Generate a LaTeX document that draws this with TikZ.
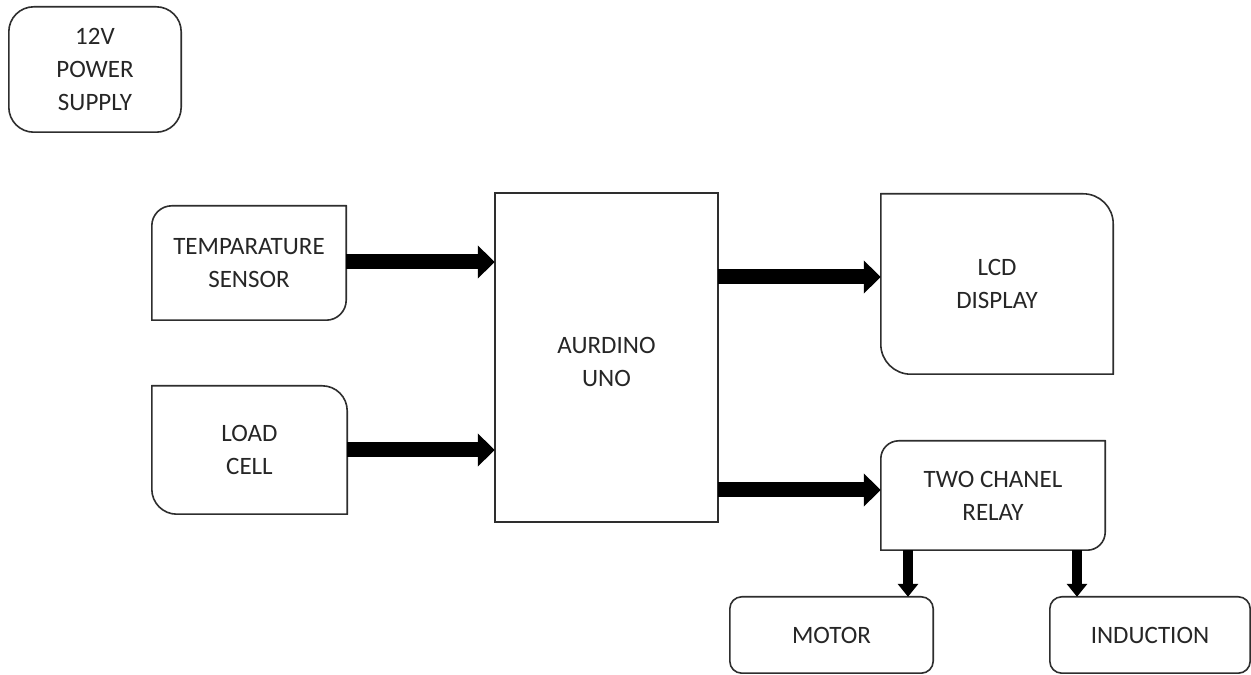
\documentclass[tikz,border=0pt]{standalone}
\usepackage{fontspec}
\setmainfont{Carlito}
\usetikzlibrary{arrows.meta}
\definecolor{inkgray}{HTML}{2E2E2E}
\definecolor{txtgray}{HTML}{262626}
\tikzset{
  blk/.style={draw=none, inner sep=0pt, align=center, text=txtgray,
    font=\fontsize{25}{33}\selectfont},
  boxline/.style={draw=inkgray, line width=1.6pt},
  bigarrow/.style={line width=15pt, -{Triangle[length=17pt,width=32pt]}},
  smallarrow/.style={line width=10pt, -{Triangle[length=13pt,width=20pt]}}
}
% outline of a named node with individual corner radii: TL TR BR BL
\newcommand\cornerbox[5]{%
  \draw[boxline] (#1.west) -- ([yshift=-#2]#1.north west)
    arc[start angle=180,end angle=90,radius=#2]
    -- ([xshift=-#3]#1.north east)
    arc[start angle=90,end angle=0,radius=#3]
    -- ([yshift=#4]#1.south east)
    arc[start angle=0,end angle=-90,radius=#4]
    -- ([xshift=#5]#1.south west)
    arc[start angle=-90,end angle=-180,radius=#5]
    -- cycle;}
\begin{document}
\begin{tikzpicture}[x=1pt,y=1pt]
\useasboundingbox[fill=white] (0,0) rectangle (1251,675);

\node[blk, minimum width=172pt, minimum height=125pt] (psu) at (95,605.5) {12V\\POWER\\SUPPLY};
\node[blk, minimum width=194pt, minimum height=114pt] (temp) at (249,412) {TEMPARATURE\\SENSOR};
\node[blk, minimum width=195pt, minimum height=128pt] (load) at (249.5,225) {LOAD\\CELL};
\node[blk, minimum width=223pt, minimum height=329pt] (ard) at (606.5,317.5) {};
\node[blk] (ardtxt) at (606.5,313) {AURDINO\\UNO};
\node[blk, minimum width=232pt, minimum height=180pt] (lcd) at (997,391) {LCD\\DISPLAY};
\node[blk, minimum width=224pt, minimum height=109pt] (relay) at (993,179.5) {TWO CHANEL\\RELAY};
\node[blk, minimum width=203pt, minimum height=76pt] (motor) at (831.5,40) {MOTOR};
\node[blk, minimum width=200pt, minimum height=76pt] (ind) at (1150,40) {INDUCTION};

\cornerbox{psu}{25pt}{25pt}{25pt}{25pt}
\cornerbox{temp}{20pt}{0.01pt}{20pt}{0.01pt}
\cornerbox{load}{0.01pt}{25pt}{0.01pt}{25pt}
\draw[boxline] (ard.south west) rectangle (ard.north east);
\cornerbox{lcd}{0.01pt}{30pt}{0.01pt}{30pt}
\cornerbox{relay}{18pt}{0.01pt}{18pt}{0.01pt}
\cornerbox{motor}{12pt}{12pt}{12pt}{12pt}
\cornerbox{ind}{12pt}{12pt}{12pt}{12pt}

\coordinate (tempout) at ([yshift=1pt]temp.east);
\draw[bigarrow] (tempout) -- (ard.west |- tempout);
\draw[bigarrow] (load.east) -- (ard.west |- load.east);
\coordinate (lcdin) at ([yshift=7pt]lcd.west);
\draw[bigarrow] (ard.east |- lcdin) -- (lcdin);
\coordinate (relin) at ([yshift=5.5pt]relay.west);
\draw[bigarrow] (ard.east |- relin) -- (relin);
\coordinate (rout1) at ([xshift=-85pt]relay.south);
\draw[smallarrow] (rout1) -- (motor.north -| rout1);
\coordinate (rout2) at ([xshift=84pt]relay.south);
\draw[smallarrow] (rout2) -- (ind.north -| rout2);
\end{tikzpicture}
\end{document}
